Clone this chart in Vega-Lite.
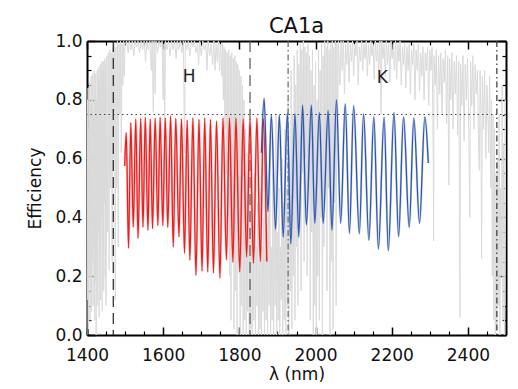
{
  "$schema": "https://vega.github.io/schema/vega-lite/v6.json",
  "width": 419,
  "height": 294,
  "autosize": {"type": "none"},
  "padding": {"left": 87, "top": 41, "right": 12, "bottom": 54},
  "background": "white",
  "config": {
    "view": {"stroke": null},
    "font": "DejaVu Sans",
    "axis": {"zindex": 1, "grid": false, "labelFont": "DejaVu Sans", "titleFont": "DejaVu Sans", "labelFontSize": 17, "titleFontSize": 17, "labelColor": "#111", "titleColor": "#111", "tickColor": "black", "domainColor": "black", "titleFontWeight": "normal", "labelFlush": false, "labelOverlap": false}
  },
  "title": {"text": "CA1a", "fontSize": 21, "fontWeight": "normal", "font": "DejaVu Sans", "color": "#111", "offset": -5, "anchor": "middle"},
  "datasets": {
    "atm": [
      {"nm":1400,"t":0.0},{"nm":1401,"t":0.8},{"nm":1402,"t":0.12},{"nm":1403,"t":0.84},{"nm":1404,"t":0.02},{"nm":1405,"t":0.7},{"nm":1406,"t":0.2},{"nm":1407,"t":0.86},{"nm":1408,"t":0.05},{"nm":1409,"t":0.78},{"nm":1410,"t":0.15},{"nm":1411,"t":0.88},{"nm":1412,"t":0.08},{"nm":1413,"t":0.82},{"nm":1414,"t":0.25},{"nm":1415,"t":0.89},{"nm":1416,"t":0.1},{"nm":1417,"t":0.76},{"nm":1418,"t":0.3},{"nm":1419,"t":0.9},{"nm":1420,"t":0.05},{"nm":1421,"t":0.84},{"nm":1422,"t":0.18},{"nm":1423,"t":0.89},{"nm":1424,"t":0.0},{"nm":1425,"t":0.8},{"nm":1426,"t":0.22},{"nm":1427,"t":0.9},{"nm":1428,"t":0.1},{"nm":1429,"t":0.86},{"nm":1430,"t":0.35},{"nm":1431,"t":0.91},{"nm":1432,"t":0.06},{"nm":1433,"t":0.88},{"nm":1434,"t":0.28},{"nm":1435,"t":0.92},{"nm":1436,"t":0.12},{"nm":1437,"t":0.85},{"nm":1438,"t":0.4},{"nm":1439,"t":0.93},{"nm":1440,"t":0.08},{"nm":1441,"t":0.9},{"nm":1442,"t":0.3},{"nm":1443,"t":0.93},{"nm":1444,"t":0.15},{"nm":1445,"t":0.88},{"nm":1446,"t":0.45},{"nm":1447,"t":0.94},{"nm":1448,"t":0.2},{"nm":1449,"t":0.92},{"nm":1450,"t":0.1},
      {"nm":1452,"t":0.95},{"nm":1454,"t":0.35},{"nm":1456,"t":0.96},{"nm":1458,"t":0.22},{"nm":1460,"t":0.97},{"nm":1462,"t":0.5},{"nm":1464,"t":0.96},{"nm":1466,"t":0.25},{"nm":1468,"t":0.98},{"nm":1470,"t":0.6},{"nm":1472,"t":0.99},{"nm":1474,"t":0.12},{"nm":1476,"t":0.98},{"nm":1478,"t":0.5},{"nm":1480,"t":1.0},{"nm":1482,"t":0.3},{"nm":1484,"t":0.99},{"nm":1486,"t":0.75},{"nm":1488,"t":1.0},{"nm":1490,"t":0.62},{"nm":1492,"t":0.99},{"nm":1494,"t":0.85},{"nm":1496,"t":1.0},{"nm":1498,"t":0.88},{"nm":1500,"t":0.99},
      {"nm":1504,"t":1.0},{"nm":1508,"t":0.96},{"nm":1511,"t":1.0},{"nm":1515,"t":0.97},{"nm":1519,"t":1.0},{"nm":1523,"t":0.95},{"nm":1526,"t":1.0},{"nm":1530,"t":0.98},{"nm":1534,"t":1.0},{"nm":1538,"t":0.96},{"nm":1542,"t":1.0},{"nm":1546,"t":0.97},{"nm":1550,"t":1.0},{"nm":1554,"t":0.93},{"nm":1557,"t":1.0},{"nm":1561,"t":0.97},{"nm":1565,"t":1.0},{"nm":1569,"t":0.9},{"nm":1571,"t":1.0},{"nm":1574,"t":0.76},{"nm":1576,"t":1.0},{"nm":1579,"t":0.82},{"nm":1581,"t":1.0},{"nm":1585,"t":0.96},{"nm":1589,"t":1.0},{"nm":1593,"t":0.98},{"nm":1597,"t":1.0},{"nm":1600,"t":0.8},{"nm":1602,"t":0.99},{"nm":1604,"t":0.7},{"nm":1606,"t":1.0},{"nm":1610,"t":0.97},{"nm":1614,"t":1.0},{"nm":1618,"t":0.95},{"nm":1622,"t":1.0},{"nm":1626,"t":0.97},{"nm":1630,"t":1.0},{"nm":1634,"t":0.94},{"nm":1637,"t":1.0},{"nm":1641,"t":0.97},{"nm":1645,"t":1.0},{"nm":1649,"t":0.96},{"nm":1653,"t":1.0},{"nm":1656,"t":0.62},{"nm":1658,"t":1.0},{"nm":1662,"t":0.97},{"nm":1666,"t":1.0},{"nm":1670,"t":0.95},{"nm":1674,"t":1.0},{"nm":1678,"t":0.98},{"nm":1682,"t":1.0},{"nm":1686,"t":0.96},{"nm":1690,"t":0.99},{"nm":1693,"t":0.92},{"nm":1696,"t":1.0},{"nm":1700,"t":0.95},{"nm":1704,"t":1.0},{"nm":1708,"t":0.97},{"nm":1712,"t":0.99},{"nm":1715,"t":0.9},{"nm":1718,"t":1.0},{"nm":1722,"t":0.95},{"nm":1726,"t":0.99},{"nm":1730,"t":0.92},{"nm":1733,"t":1.0},{"nm":1736,"t":0.9},{"nm":1739,"t":0.99},{"nm":1742,"t":0.93},{"nm":1745,"t":1.0},{"nm":1748,"t":0.9},{"nm":1751,"t":0.99},
      {"nm":1754,"t":0.88},{"nm":1756,"t":0.99},{"nm":1758,"t":0.8},{"nm":1760,"t":0.98},{"nm":1762,"t":0.7},{"nm":1764,"t":0.97},{"nm":1766,"t":0.55},{"nm":1768,"t":0.96},{"nm":1770,"t":0.4},{"nm":1772,"t":0.97},{"nm":1774,"t":0.2},{"nm":1776,"t":0.95},{"nm":1778,"t":0.05},{"nm":1780,"t":0.96},{"nm":1782,"t":0.3},{"nm":1784,"t":0.94},{"nm":1786,"t":0.02},{"nm":1788,"t":0.95},{"nm":1790,"t":0.15},{"nm":1792,"t":0.93},{"nm":1794,"t":0.0},{"nm":1796,"t":0.92},{"nm":1798,"t":0.25},{"nm":1800,"t":0.9},{"nm":1802,"t":0.0},{"nm":1804,"t":0.88},{"nm":1806,"t":0.1},{"nm":1808,"t":0.85},{"nm":1810,"t":0.0},{"nm":1812,"t":0.8},{"nm":1814,"t":0.05},{"nm":1816,"t":0.7},{"nm":1818,"t":0.0},{"nm":1820,"t":0.62},{"nm":1822,"t":0.08},{"nm":1824,"t":0.55},{"nm":1826,"t":0.0},{"nm":1828,"t":0.5},{"nm":1830,"t":0.02},
      {"nm":1832,"t":0.5},{"nm":1834,"t":0.0},{"nm":1836,"t":0.35},{"nm":1838,"t":0.05},{"nm":1840,"t":0.55},{"nm":1842,"t":0.0},{"nm":1844,"t":0.3},{"nm":1846,"t":0.1},{"nm":1848,"t":0.45},{"nm":1850,"t":0.0},{"nm":1852,"t":0.25},{"nm":1854,"t":0.02},{"nm":1856,"t":0.5},{"nm":1858,"t":0.0},{"nm":1860,"t":0.3},{"nm":1862,"t":0.08},{"nm":1864,"t":0.4},{"nm":1866,"t":0.0},{"nm":1868,"t":0.6},{"nm":1870,"t":0.05},{"nm":1872,"t":0.35},{"nm":1874,"t":0.0},{"nm":1876,"t":0.45},{"nm":1878,"t":0.1},{"nm":1880,"t":0.65},{"nm":1882,"t":0.0},{"nm":1884,"t":0.3},{"nm":1886,"t":0.05},{"nm":1888,"t":0.55},{"nm":1890,"t":0.0},{"nm":1892,"t":0.4},{"nm":1894,"t":0.1},{"nm":1896,"t":0.75},{"nm":1898,"t":0.0},{"nm":1900,"t":0.35},{"nm":1902,"t":0.05},{"nm":1904,"t":0.5},{"nm":1906,"t":0.0},{"nm":1908,"t":0.3},{"nm":1910,"t":0.12},{"nm":1912,"t":0.6},{"nm":1914,"t":0.0},{"nm":1916,"t":0.45},{"nm":1918,"t":0.05},{"nm":1920,"t":0.7},{"nm":1922,"t":0.0},{"nm":1924,"t":0.5},{"nm":1926,"t":0.1},{"nm":1928,"t":0.8},{"nm":1930,"t":0.0},{"nm":1932,"t":0.6},{"nm":1934,"t":0.15},{"nm":1936,"t":0.9},{"nm":1938,"t":0.02},{"nm":1940,"t":0.75},{"nm":1942,"t":0.2},{"nm":1944,"t":0.95},{"nm":1946,"t":0.05},{"nm":1948,"t":0.85},{"nm":1950,"t":0.3},{"nm":1952,"t":0.97},{"nm":1954,"t":0.1},
      {"nm":1956,"t":0.92},{"nm":1958,"t":0.4},{"nm":1960,"t":0.99},{"nm":1962,"t":0.15},{"nm":1964,"t":0.97},{"nm":1966,"t":0.55},{"nm":1968,"t":1.0},{"nm":1970,"t":0.25},{"nm":1972,"t":0.98},{"nm":1974,"t":0.6},{"nm":1976,"t":0.96},{"nm":1978,"t":0.2},{"nm":1980,"t":0.99},{"nm":1982,"t":0.5},{"nm":1984,"t":0.95},{"nm":1986,"t":0.05},{"nm":1988,"t":0.9},{"nm":1990,"t":0.35},{"nm":1992,"t":0.97},{"nm":1994,"t":0.0},{"nm":1996,"t":0.85},{"nm":1998,"t":0.1},{"nm":2000,"t":0.93},{"nm":2002,"t":0.0},{"nm":2004,"t":0.8},{"nm":2006,"t":0.2},{"nm":2008,"t":0.97},{"nm":2010,"t":0.05},{"nm":2012,"t":0.9},{"nm":2014,"t":0.4},{"nm":2016,"t":0.99},{"nm":2018,"t":0.0},{"nm":2020,"t":0.95},{"nm":2022,"t":0.3},{"nm":2024,"t":1.0},{"nm":2026,"t":0.6},{"nm":2028,"t":0.98},{"nm":2030,"t":0.15},{"nm":2032,"t":1.0},{"nm":2034,"t":0.5},{"nm":2036,"t":0.97},{"nm":2038,"t":0.0},{"nm":2040,"t":0.99},{"nm":2042,"t":0.25},{"nm":2044,"t":1.0},{"nm":2046,"t":0.02},{"nm":2048,"t":0.98},{"nm":2050,"t":0.45},{"nm":2052,"t":1.0},{"nm":2054,"t":0.1},{"nm":2056,"t":0.99},{"nm":2058,"t":0.7},{"nm":2060,"t":1.0},
      {"nm":2064,"t":0.85},{"nm":2067,"t":1.0},{"nm":2070,"t":0.9},{"nm":2073,"t":1.0},{"nm":2076,"t":0.82},{"nm":2079,"t":0.99},{"nm":2082,"t":0.92},{"nm":2085,"t":1.0},{"nm":2088,"t":0.86},{"nm":2091,"t":0.99},{"nm":2094,"t":0.93},{"nm":2097,"t":1.0},{"nm":2100,"t":0.88},{"nm":2103,"t":0.99},{"nm":2106,"t":0.95},{"nm":2109,"t":1.0},{"nm":2112,"t":0.85},{"nm":2115,"t":0.98},{"nm":2118,"t":0.93},{"nm":2121,"t":1.0},{"nm":2124,"t":0.9},{"nm":2127,"t":0.99},{"nm":2130,"t":0.94},{"nm":2133,"t":1.0},{"nm":2136,"t":0.88},{"nm":2139,"t":0.99},{"nm":2142,"t":0.92},{"nm":2145,"t":1.0},{"nm":2148,"t":0.95},{"nm":2151,"t":0.99},{"nm":2154,"t":0.87},{"nm":2157,"t":1.0},{"nm":2160,"t":0.93},{"nm":2163,"t":0.99},{"nm":2166,"t":0.9},{"nm":2169,"t":1.0},{"nm":2172,"t":0.75},{"nm":2174,"t":1.0},{"nm":2177,"t":0.94},{"nm":2180,"t":0.99},{"nm":2183,"t":0.88},{"nm":2186,"t":1.0},{"nm":2189,"t":0.92},{"nm":2192,"t":0.99},{"nm":2195,"t":0.86},{"nm":2198,"t":1.0},{"nm":2201,"t":0.94},{"nm":2204,"t":0.99},{"nm":2207,"t":0.9},{"nm":2210,"t":1.0},{"nm":2213,"t":0.87},{"nm":2216,"t":0.99},{"nm":2219,"t":0.93},{"nm":2222,"t":1.0},{"nm":2225,"t":0.85},{"nm":2228,"t":0.98},{"nm":2231,"t":0.92},{"nm":2234,"t":0.99},{"nm":2237,"t":0.84},{"nm":2240,"t":0.98},{"nm":2243,"t":0.9},{"nm":2246,"t":0.99},{"nm":2249,"t":0.82},{"nm":2252,"t":0.97},{"nm":2255,"t":0.92},{"nm":2258,"t":0.99},{"nm":2261,"t":0.8},{"nm":2264,"t":0.97},{"nm":2267,"t":0.9},{"nm":2270,"t":0.99},{"nm":2273,"t":0.83},{"nm":2276,"t":0.96},{"nm":2279,"t":0.88},{"nm":2282,"t":0.98},{"nm":2285,"t":0.8},{"nm":2288,"t":0.96},{"nm":2291,"t":0.9},{"nm":2294,"t":0.98},{"nm":2297,"t":0.78},{"nm":2300,"t":0.97},
      {"nm":2303,"t":0.9},{"nm":2306,"t":0.98},{"nm":2309,"t":0.6},{"nm":2310,"t":0.32},{"nm":2311,"t":0.95},{"nm":2314,"t":0.85},{"nm":2317,"t":0.97},{"nm":2320,"t":0.7},{"nm":2323,"t":0.95},{"nm":2326,"t":0.82},{"nm":2329,"t":0.96},{"nm":2332,"t":0.75},{"nm":2335,"t":0.94},{"nm":2338,"t":0.86},{"nm":2341,"t":0.97},{"nm":2344,"t":0.72},{"nm":2347,"t":0.95},{"nm":2350,"t":0.51},{"nm":2352,"t":0.94},{"nm":2355,"t":0.8},{"nm":2358,"t":0.96},{"nm":2361,"t":0.7},{"nm":2364,"t":0.93},{"nm":2367,"t":0.82},{"nm":2370,"t":0.95},{"nm":2373,"t":0.68},{"nm":2376,"t":0.93},{"nm":2379,"t":0.06},{"nm":2381,"t":0.92},{"nm":2384,"t":0.78},{"nm":2387,"t":0.95},{"nm":2390,"t":0.66},{"nm":2393,"t":0.92},{"nm":2396,"t":0.8},{"nm":2399,"t":0.94},{"nm":2402,"t":0.72},{"nm":2405,"t":0.4},{"nm":2407,"t":0.93},{"nm":2410,"t":0.78},{"nm":2413,"t":0.95},{"nm":2416,"t":0.7},{"nm":2419,"t":0.92},{"nm":2422,"t":0.82},{"nm":2425,"t":0.9},{"nm":2428,"t":0.65},{"nm":2430,"t":0.56},{"nm":2432,"t":0.9},{"nm":2434,"t":0.75},{"nm":2436,"t":0.26},{"nm":2438,"t":0.88},{"nm":2441,"t":0.7},{"nm":2444,"t":0.9},{"nm":2447,"t":0.6},{"nm":2450,"t":0.85},{"nm":2453,"t":0.72},{"nm":2455,"t":0.62},{"nm":2457,"t":0.88},{"nm":2460,"t":0.5},{"nm":2462,"t":0.8},{"nm":2464,"t":0.2},{"nm":2466,"t":0.75},{"nm":2468,"t":0.05},{"nm":2470,"t":0.7},{"nm":2472,"t":0.0},{"nm":2474,"t":0.55},{"nm":2476,"t":0.02},{"nm":2478,"t":0.6},{"nm":2480,"t":0.1},{"nm":2482,"t":0.75},{"nm":2484,"t":0.0},{"nm":2486,"t":0.5},{"nm":2488,"t":0.2},{"nm":2490,"t":0.85},{"nm":2492,"t":0.05},{"nm":2494,"t":0.65},{"nm":2496,"t":0.0},{"nm":2498,"t":0.8},{"nm":2500,"t":0.1}
    ],
    "fr": [
      {"nm":1499,"e":0.575,"b":"H"},{"nm":1503,"e":0.688,"b":"H"},{"nm":1509,"e":0.296,"b":"H"},{"nm":1515,"e":0.722,"b":"H"},{"nm":1521.5,"e":0.367,"b":"H"},{"nm":1528,"e":0.734,"b":"H"},{"nm":1534,"e":0.329,"b":"H"},{"nm":1541,"e":0.737,"b":"H"},{"nm":1547,"e":0.367,"b":"H"},{"nm":1553,"e":0.74,"b":"H"},{"nm":1560,"e":0.357,"b":"H"},{"nm":1566,"e":0.735,"b":"H"},{"nm":1572,"e":0.362,"b":"H"},{"nm":1579,"e":0.737,"b":"H"},{"nm":1586,"e":0.372,"b":"H"},{"nm":1592,"e":0.74,"b":"H"},{"nm":1599,"e":0.372,"b":"H"},{"nm":1605.5,"e":0.738,"b":"H"},{"nm":1612,"e":0.366,"b":"H"},{"nm":1619.5,"e":0.745,"b":"H"},{"nm":1626.5,"e":0.3,"b":"H"},{"nm":1633,"e":0.737,"b":"H"},{"nm":1641.5,"e":0.334,"b":"H"},{"nm":1648,"e":0.735,"b":"H"},{"nm":1656,"e":0.279,"b":"H"},{"nm":1663,"e":0.73,"b":"H"},{"nm":1670,"e":0.255,"b":"H"},{"nm":1678,"e":0.738,"b":"H"},{"nm":1686,"e":0.203,"b":"H"},{"nm":1694,"e":0.733,"b":"H"},{"nm":1702,"e":0.217,"b":"H"},{"nm":1709,"e":0.738,"b":"H"},{"nm":1717,"e":0.215,"b":"H"},{"nm":1724,"e":0.733,"b":"H"},{"nm":1732,"e":0.211,"b":"H"},{"nm":1740,"e":0.727,"b":"H"},{"nm":1749,"e":0.194,"b":"H"},{"nm":1757,"e":0.738,"b":"H"},{"nm":1766,"e":0.256,"b":"H"},{"nm":1774,"e":0.738,"b":"H"},{"nm":1783,"e":0.248,"b":"H"},{"nm":1791,"e":0.738,"b":"H"},{"nm":1801,"e":0.215,"b":"H"},{"nm":1810,"e":0.735,"b":"H"},{"nm":1819,"e":0.266,"b":"H"},{"nm":1828,"e":0.735,"b":"H"},{"nm":1837,"e":0.244,"b":"H"},{"nm":1846,"e":0.738,"b":"H"},{"nm":1855,"e":0.25,"b":"H"},{"nm":1863,"e":0.735,"b":"H"},{"nm":1872,"e":0.25,"b":"H"},
      {"nm":1858,"e":0.62,"b":"K"},{"nm":1865,"e":0.805,"b":"K"},{"nm":1875,"e":0.42,"b":"K"},{"nm":1884,"e":0.748,"b":"K"},{"nm":1895,"e":0.36,"b":"K"},{"nm":1905,"e":0.748,"b":"K"},{"nm":1915,"e":0.334,"b":"K"},{"nm":1926,"e":0.755,"b":"K"},{"nm":1935,"e":0.31,"b":"K"},{"nm":1946,"e":0.752,"b":"K"},{"nm":1956,"e":0.334,"b":"K"},{"nm":1966,"e":0.782,"b":"K"},{"nm":1976,"e":0.375,"b":"K"},{"nm":1989,"e":0.782,"b":"K"},{"nm":1998,"e":0.38,"b":"K"},{"nm":2010,"e":0.756,"b":"K"},{"nm":2020,"e":0.38,"b":"K"},{"nm":2033,"e":0.763,"b":"K"},{"nm":2043,"e":0.357,"b":"K"},{"nm":2055,"e":0.8,"b":"K"},{"nm":2066,"e":0.38,"b":"K"},{"nm":2078,"e":0.786,"b":"K"},{"nm":2089,"e":0.346,"b":"K"},{"nm":2100,"e":0.779,"b":"K"},{"nm":2115,"e":0.345,"b":"K"},{"nm":2126,"e":0.752,"b":"K"},{"nm":2140,"e":0.323,"b":"K"},{"nm":2153,"e":0.742,"b":"K"},{"nm":2165,"e":0.293,"b":"K"},{"nm":2180,"e":0.74,"b":"K"},{"nm":2191,"e":0.287,"b":"K"},{"nm":2206,"e":0.756,"b":"K"},{"nm":2218,"e":0.334,"b":"K"},{"nm":2231,"e":0.742,"b":"K"},{"nm":2246,"e":0.366,"b":"K"},{"nm":2258,"e":0.738,"b":"K"},{"nm":2273,"e":0.38,"b":"K"},{"nm":2287,"e":0.742,"b":"K"},{"nm":2296,"e":0.585,"b":"K"}
    ],
    "vl": [
      {"nm":1469,"k":"a"},{"nm":1828,"k":"b"},{"nm":1928,"k":"c"},{"nm":2476,"k":"d"}
    ],
    "hl": [{"e":0.75}],
    "lab": [{"nm":1668,"e":0.878,"s":"H"},{"nm":2175,"e":0.874,"s":"K"}]
  },
  "resolve": {"axis": {"x": "independent", "y": "independent"}, "scale": {"color": "independent", "stroke": "independent", "strokeDash": "independent"}},
  "layer": [
    {
      "data": {"name": "atm"},
      "mark": {"type": "line", "color": "#dadada", "strokeWidth": 1, "clip": true},
      "encoding": {
        "x": {"field": "nm", "type": "quantitative", "scale": {"domain": [1400, 2500], "nice": false, "zero": false},
              "axis": {"orient": "bottom", "values": [1400,1600,1800,2000,2200,2400], "format": "d", "tickSize": -8, "tickWidth": 1.5, "domain": true, "domainWidth": 2, "labelPadding": 20, "title": "λ (nm)", "titlePadding": 3}},
        "y": {"field": "t", "type": "quantitative", "scale": {"domain": [0, 1], "nice": false, "zero": false},
              "axis": {"orient": "left", "values": [0,0.2,0.4,0.6,0.8,1], "format": ".1f", "tickSize": -8, "tickWidth": 1.5, "domain": true, "domainWidth": 2, "labelPadding": 13, "title": "Efficiency", "titlePadding": 10}}
      }
    },
    {
      "data": {"name": "vl"},
      "mark": {"type": "rule", "strokeWidth": 1.2},
      "encoding": {
        "x": {"field": "nm", "type": "quantitative",
              "axis": {"orient": "bottom", "values": [1450,1500,1550,1650,1700,1750,1850,1900,1950,2050,2100,2150,2250,2300,2350,2450], "tickSize": -4, "tickWidth": 1.2, "labels": false, "domain": false, "title": null}},
        "color": {"field": "k", "type": "nominal", "scale": {"domain": ["a","b","c","d"], "range": ["#222222","#555555","#666666","#333333"]}, "legend": null},
        "strokeDash": {"field": "k", "type": "nominal", "scale": {"domain": ["a","b","c","d"], "range": [[11,6],[11,6],[6,3,1.5,3],[6,3,1.5,3]]}, "legend": null}
      }
    },
    {
      "data": {"name": "fr"},
      "mark": {"type": "line", "strokeWidth": 2.2, "opacity": 0.45, "interpolate": "monotone"},
      "encoding": {
        "x": {"field": "nm", "type": "quantitative",
              "axis": {"orient": "top", "values": [1400,1600,1800,2000,2200,2400], "tickSize": -8, "tickWidth": 1.5, "labels": false, "domain": true, "domainWidth": 2, "title": null}},
        "y": {"field": "e", "type": "quantitative",
              "axis": {"orient": "left", "values": [0.05,0.1,0.15,0.25,0.3,0.35,0.45,0.5,0.55,0.65,0.7,0.75,0.85,0.9,0.95], "tickSize": -4, "tickWidth": 1.2, "labels": false, "domain": false, "title": null}},
        "color": {"field": "b", "type": "nominal", "scale": {"domain": ["H","K"], "range": ["#f58080","#8ea4d6"]}, "legend": null},
        "detail": {"field": "b"}
      }
    },
    {
      "data": {"name": "fr"},
      "mark": {"type": "line", "strokeWidth": 1.3, "interpolate": "monotone"},
      "encoding": {
        "x": {"field": "nm", "type": "quantitative",
              "axis": {"orient": "top", "values": [1450,1500,1550,1650,1700,1750,1850,1900,1950,2050,2100,2150,2250,2300,2350,2450], "tickSize": -4, "tickWidth": 1.2, "labels": false, "domain": false, "title": null}},
        "y": {"field": "e", "type": "quantitative",
              "axis": {"orient": "right", "values": [0,0.2,0.4,0.6,0.8,1], "tickSize": -8, "tickWidth": 1.5, "labels": false, "domain": true, "domainWidth": 2, "title": null}},
        "color": {"field": "b", "type": "nominal", "scale": {"domain": ["H","K"], "range": ["#ee1c1c","#2f55ad"]}, "legend": null},
        "detail": {"field": "b"}
      }
    },
    {
      "data": {"name": "hl"},
      "mark": {"type": "rule", "color": "#444444", "strokeWidth": 1, "strokeDash": [1.5, 3]},
      "encoding": {
        "y": {"field": "e", "type": "quantitative",
              "axis": {"orient": "right", "values": [0.05,0.1,0.15,0.25,0.3,0.35,0.45,0.5,0.55,0.65,0.7,0.75,0.85,0.9,0.95], "tickSize": -4, "tickWidth": 1.2, "labels": false, "domain": false, "title": null}}
      }
    },
    {
      "data": {"name": "lab"},
      "mark": {"type": "text", "fontSize": 17, "font": "DejaVu Sans", "color": "#222222"},
      "encoding": {
        "x": {"field": "nm", "type": "quantitative", "axis": null},
        "y": {"field": "e", "type": "quantitative", "axis": null},
        "text": {"field": "s"}
      }
    }
  ]
}
